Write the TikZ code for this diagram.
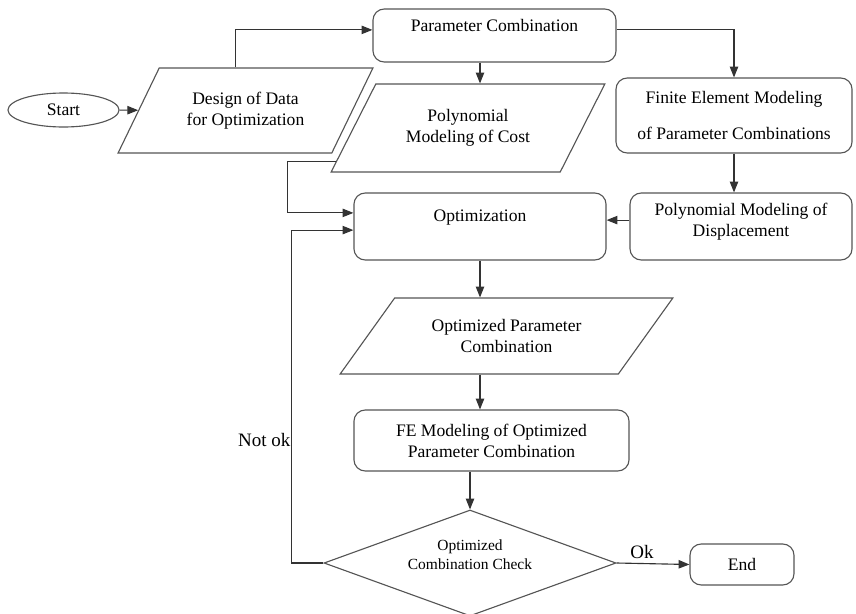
\documentclass[tikz,border=0pt]{standalone}
\usepackage{fontspec}
\setmainfont{Liberation Serif}
\newfontfamily\flowfont{Liberation Serif}
\usetikzlibrary{shapes.geometric,calc,arrows.meta}
\definecolor{edgegray}{HTML}{555555}
\definecolor{linegray}{HTML}{333333}

\begin{document}
\begin{tikzpicture}[x=0.025cm,y=-0.025cm]
\tikzstyle{proc}=[rounded corners=8pt,draw=edgegray,thick,align=center,font=\flowfont\fontsize{12.5}{15}\selectfont]
\tikzstyle{io}=[trapezium,trapezium stretches=true,draw=edgegray,thick,inner sep=0pt,align=center,font=\flowfont\fontsize{12.5}{15}\selectfont]
\tikzstyle{arr}=[-{Triangle[length=0.27cm,width=0.21cm]},draw=linegray,thick]
\tikzstyle{lbl}=[font=\flowfont\fontsize{13.5}{16}\selectfont]
\useasboundingbox (0,0) rectangle (856,613);

\node[ellipse,draw=edgegray,thick,minimum width=2.775cm,minimum height=0.85cm,font=\flowfont\fontsize{12.5}{15}\selectfont] (start) at (63.5,110) {Start};
\node[io,trapezium left angle=53,trapezium right angle=127,minimum width=6.375cm,minimum height=2.125cm] (design) at (245.5,110.5) {Design of Data\\for Optimization};
\node[proc,minimum width=6.075cm,minimum height=1.325cm] (param) at (494.5,35.5) {Parameter Combination\\\mbox{}};
\node[io,trapezium left angle=51,trapezium right angle=129,minimum width=6.85cm,minimum height=2.2cm] (poly) at (468,128) {Polynomial\\Modeling of Cost};
\node[proc,minimum width=5.9cm,minimum height=1.875cm] (fem) at (734,115.5) {Finite Element Modeling\\[10.5pt]of Parameter Combinations};
\node[proc,minimum width=5.55cm,minimum height=1.675cm] (pmd) at (741,226.5) {Polynomial Modeling of\\Displacement\\[-6pt]\mbox{}};
\node[proc,minimum width=6.3cm,minimum height=1.675cm] (optim) at (480,226.5) {Optimization\\\mbox{}};
\node[io,trapezium left angle=42.5,trapezium right angle=137.5,minimum width=8.325cm,minimum height=1.9cm] (opc) at (506.5,336) {Optimized Parameter\\Combination};
\node[proc,minimum width=6.875cm,minimum height=1.525cm] (fe) at (491.5,440.5) {FE Modeling of Optimized\\Parameter Combination};
\node[diamond,draw=edgegray,thick,inner sep=0pt,minimum width=7.3cm,minimum height=2.65cm] (check) at (470,563) {};
\node[font=\flowfont\fontsize{11}{13.5}\selectfont,align=center] (checktxt) at (470,555) {Optimized\\Combination Check};
\node[proc,minimum width=2.6cm,minimum height=1.025cm] (endn) at (742,564.5) {End};
\node[lbl,anchor=east,inner sep=1pt] (notok) at (292,440) {Not ok};

\draw[arr] (start) -- (design);
\draw[arr] ([xshift=-0.24cm]design.north) |- ([yshift=0.14cm]param.west);
\draw[arr] (param.south -| optim.north) -- (optim.north |- poly.north);
\draw[arr] ([yshift=0.14cm]param.east) -| (fem.north);
\draw[arr] (fem.south) -- (fem.south |- pmd.north);
\draw[arr] ([yshift=0.16cm]pmd.west) -- ([yshift=0.16cm]pmd.west -| optim.east);
\draw[arr] ($(poly.bottom left corner)!.125!(poly.top left corner)$) -- ++(-48,0) |- ([yshift=0.34cm]optim.west);
\draw[arr] (check.west) -- ++(-32,0) |- ([yshift=-0.09cm]optim.west);
\draw[arr] (optim.south) -- (optim.south |- opc.north);
\draw[arr] (optim.south |- opc.south) -- (optim.south |- fe.north);
\draw[arr] (check.north |- fe.south) -- (check.north);
\draw[arr] (check.east) -- node[lbl,above,pos=.35] (oklbl) {Ok} (endn.west);
\end{tikzpicture}
\end{document}
